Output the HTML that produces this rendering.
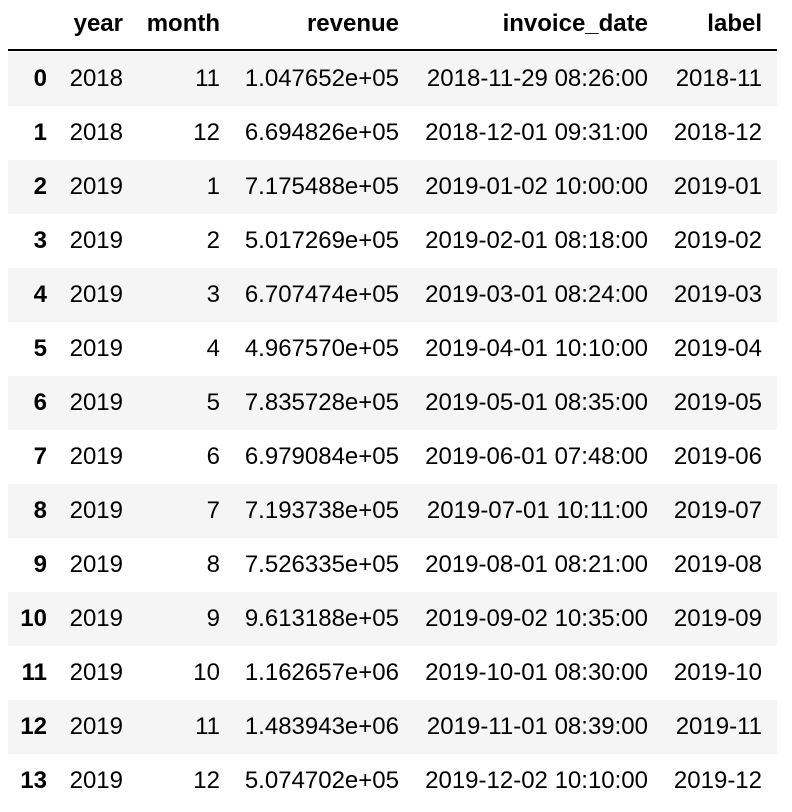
<!DOCTYPE html>
<html><head><meta charset="utf-8"><style>
body{margin:0;background:#fff;width:792px;height:812px;overflow:hidden;font-family:"Liberation Sans",Arial,sans-serif;font-size:24px;color:#000}
.row{position:absolute;left:8px;width:769px;height:54px}
.row.s{background:#f5f5f5}
.c{position:absolute;top:0;line-height:54px;text-align:right;white-space:nowrap}
.h .c{font-weight:bold;line-height:48px}
.b{font-weight:bold}
.line{position:absolute;left:8px;width:769px;top:49px;height:2px;background:#000}
</style></head><body>
<div id="t"></div>
<script>
const idx=[0,1,2,3,4,5,6,7,8,9,10,11,12,13];
const years=[2018,2018,2019,2019,2019,2019,2019,2019,2019,2019,2019,2019,2019,2019];
const months=[11,12,1,2,3,4,5,6,7,8,9,10,11,12];
const revenue=["1.047652e+05","6.694826e+05","7.175488e+05","5.017269e+05","6.707474e+05","4.967570e+05","7.835728e+05","6.979084e+05","7.193738e+05","7.526335e+05","9.613188e+05","1.162657e+06","1.483943e+06","5.074702e+05"];
const dates=["2018-11-29 08:26:00","2018-12-01 09:31:00","2019-01-02 10:00:00","2019-02-01 08:18:00","2019-03-01 08:24:00","2019-04-01 10:10:00","2019-05-01 08:35:00","2019-06-01 07:48:00","2019-07-01 10:11:00","2019-08-01 08:21:00","2019-09-02 10:35:00","2019-10-01 08:30:00","2019-11-01 08:39:00","2019-12-02 10:10:00"];
const labels=["2018-11","2018-12","2019-01","2019-02","2019-03","2019-04","2019-05","2019-06","2019-07","2019-08","2019-09","2019-10","2019-11","2019-12"];
const headers=["","year","month","revenue","invoice_date","label"];
const rights=[47,123,220,399,648,762];
const names=["index","year","month","revenue","invoice-date","label"];
const t=document.getElementById('t');
function cell(row,i,txt,bold){
  const d=document.createElement('div');
  d.className='c'+(bold?' b':'');
  d.style.right=(777-rights[i])+'px';
  d.textContent=txt;
  
  
  row.appendChild(d);
}
const h=document.createElement('div');
h.className='row h';h.style.top='0px';h.style.height='48px';


headers.forEach((x,i)=>cell(h,i,x,true));
t.appendChild(h);
const ln=document.createElement('div');ln.className='line';


t.appendChild(ln);
idx.forEach((k,r)=>{
  const row=document.createElement('div');
  row.className='row'+(r%2===0?' s':'');
  row.style.top=(52+54*r)+'px';
  
  
  cell(row,0,String(k),true);
  cell(row,1,String(years[r]));
  cell(row,2,String(months[r]));
  cell(row,3,revenue[r]);
  cell(row,4,dates[r]);
  cell(row,5,labels[r]);
  t.appendChild(row);
});
</script>
</body></html>
